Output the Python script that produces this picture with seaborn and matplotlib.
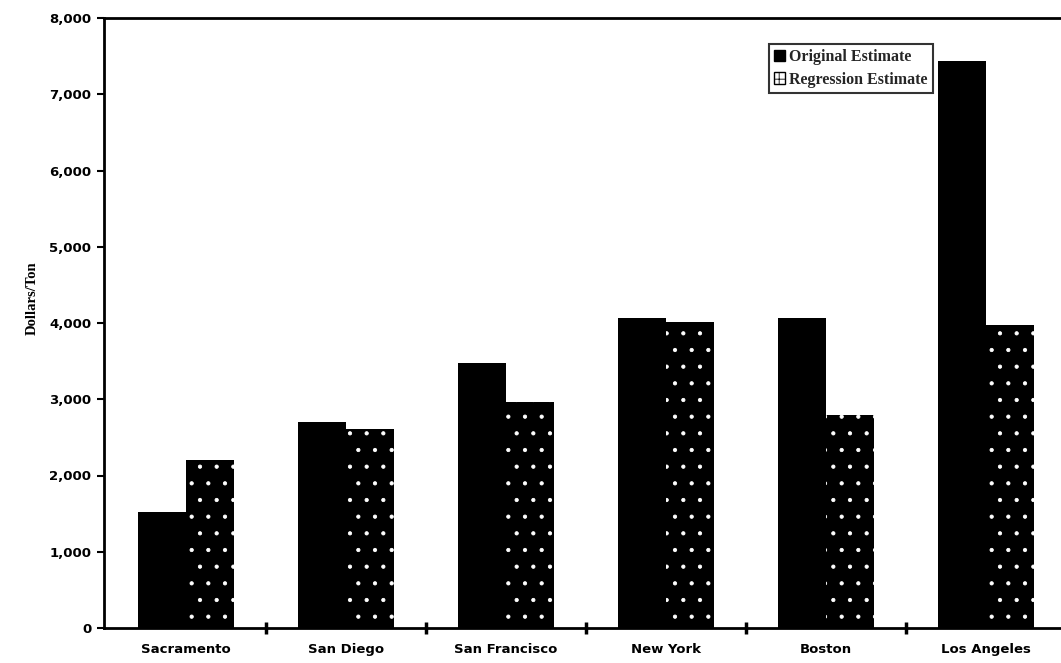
import matplotlib
matplotlib.use("Agg")
import matplotlib.pyplot as plt
from matplotlib.ticker import FuncFormatter, FixedLocator
import seaborn as sns
import pandas as pd

cities = ["Sacramento", "San Diego", "San Francisco", "New York", "Boston", "Los Angeles"]
original = [1520, 2700, 3480, 4060, 4060, 7430]
regression = [2200, 2610, 2960, 4010, 2800, 3970]
series_names = ["Original Estimate", "Regression Estimate"]
y_ticks = [0, 1000, 2000, 3000, 4000, 5000, 6000, 7000, 8000]

df = pd.DataFrame({
    "city": cities * 2,
    "value": original + regression,
    "series": [series_names[0]] * len(cities) + [series_names[1]] * len(cities),
})

sns.set_theme(style="white")
plt.rcParams["hatch.linewidth"] = 0.6

fig = plt.figure(figsize=(10.61, 6.63), dpi=100)
ax = fig.add_axes([104 / 1061, 35 / 663, (1061 - 104) / 1061, (628 - 18) / 663])

sns.barplot(data=df, x="city", y="value", hue="series", order=cities,
            hue_order=series_names, palette=["black", "black"], width=0.6,
            saturation=1, errorbar=None, ax=ax, legend=True)

n = len(cities)
for i, patch in enumerate(ax.patches[:2 * n]):
    patch.set_linewidth(0)
    if i >= n:
        patch.set_facecolor("black")
        patch.set_edgecolor("white")
        patch.set_hatch(".")
    else:
        patch.set_edgecolor("black")

ax.set_ylim(0, 8000)
ax.set_xlim(-0.51, 5.47)
ax.yaxis.set_major_locator(FixedLocator(y_ticks))
ax.yaxis.set_major_formatter(FuncFormatter(lambda v, p: f"{int(v):,}"))

for side in ["left", "bottom", "top"]:
    ax.spines[side].set_visible(True)
    ax.spines[side].set_color("black")
    ax.spines[side].set_linewidth(2.0)
ax.spines["right"].set_visible(False)

ax.tick_params(axis="y", which="major", direction="out", length=5, width=1.5,
               color="black", left=True, pad=4)
ax.tick_params(axis="x", which="major", length=0, pad=11)
ax.xaxis.set_minor_locator(FixedLocator([i + 0.5 for i in range(n - 1)]))
ax.tick_params(axis="x", which="minor", direction="inout", length=9, width=2.5,
               color="black", bottom=True)

for lab in ax.get_yticklabels() + ax.get_xticklabels():
    lab.set_fontfamily("DejaVu Sans")
    lab.set_fontweight("bold")
    lab.set_fontsize(9.5)
    lab.set_color("black")

ax.set_xlabel("")
ax.set_ylabel("Dollars/Ton", fontfamily="Liberation Serif", fontweight="bold",
              fontsize=10.5, color="black")
ax.yaxis.set_label_coords(-0.068, 0.54)

handles, labels = ax.get_legend_handles_labels()
if ax.get_legend() is not None:
    ax.get_legend().remove()
handles[0].set_facecolor("black")
handles[0].set_edgecolor("black")
handles[1].set_facecolor("white")
handles[1].set_edgecolor("black")
handles[1].set_hatch("++")
leg = ax.legend(handles, labels, loc="upper right", bbox_to_anchor=(0.866, 0.958),
                frameon=True, fancybox=False, handlelength=0.7, handleheight=0.7,
                handletextpad=0.2, borderpad=0.35, borderaxespad=0.0,
                labelspacing=0.4,
                prop={"family": "Liberation Serif", "weight": "bold", "size": 11.5})
leg.get_frame().set_edgecolor("black")
leg.get_frame().set_linewidth(1.5)

fig.savefig("out.png", dpi=100)
